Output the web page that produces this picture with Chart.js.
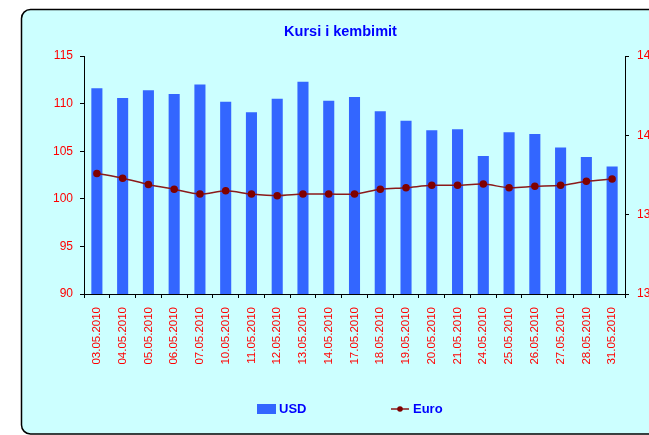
<!DOCTYPE html>
<html>
<head>
<meta charset="utf-8">
<script src="https://cdn.jsdelivr.net/npm/chart.js@4"></script>
<style>
  html, body { margin: 0; padding: 0; background: #ffffff; }
  #wrap { width: 649px; height: 435px; }
</style>
</head>
<body>
<div id="wrap"><canvas id="rateChart" width="649" height="435"></canvas></div>
<script>
// --- Data ---
const dates = ['03.05.2010', '04.05.2010', '05.05.2010', '06.05.2010', '07.05.2010',
    '10.05.2010', '11.05.2010', '12.05.2010', '13.05.2010', '14.05.2010', '17.05.2010',
    '18.05.2010', '19.05.2010', '20.05.2010', '21.05.2010', '24.05.2010', '25.05.2010',
    '26.05.2010', '27.05.2010', '28.05.2010', '31.05.2010'];
const usd = [111.6, 110.6, 111.4, 111.0, 112.0, 110.2, 109.1, 110.5, 112.3, 110.3, 110.7,
    109.2, 108.2, 107.2, 107.3, 104.5, 107.0, 106.8, 105.4, 104.4, 103.4];
const euro = [137.6, 137.3, 136.9, 136.6, 136.3, 136.5, 136.3, 136.2, 136.3, 136.3, 136.3,
    136.6, 136.7, 136.85, 136.85, 136.93, 136.7, 136.79, 136.85, 137.1, 137.25];
const usdTicks = [90, 95, 100, 105, 110, 115];
const euroTicks = [130, 135, 140, 145];

const FONT = "'Liberation Sans', Arial, sans-serif";

// --- Frame, title and legend drawn around the chart ---
const framePlugin = {
    id: 'frame',
    beforeDraw(chart) {
        const ctx = chart.ctx;
        ctx.save();
        ctx.beginPath();
        ctx.roundRect(21.5, 9.5, 700, 424.5, 9);
        ctx.fillStyle = '#ccffff';
        ctx.fill();
        ctx.lineWidth = 1.5;
        ctx.strokeStyle = '#000000';
        ctx.stroke();
        ctx.restore();
    },
    afterDraw(chart) {
        const ctx = chart.ctx;
        ctx.save();
        ctx.fillStyle = '#0000ff';
        ctx.font = 'bold 14.5px ' + FONT;
        ctx.textAlign = 'center';
        ctx.textBaseline = 'middle';
        ctx.fillText('Kursi i kembimit', 340.5, 32);

        // legend
        const ds = chart.data.datasets;
        const y = 409;
        ctx.font = 'bold 13px ' + FONT;
        ctx.textAlign = 'left';
        ctx.fillStyle = ds[0].backgroundColor;
        ctx.fillRect(257, y - 5, 19, 10);
        ctx.fillStyle = '#0000ff';
        ctx.fillText(ds[0].label, 279, y);

        ctx.strokeStyle = ds[1].borderColor;
        ctx.lineWidth = 1.5;
        ctx.beginPath();
        ctx.moveTo(391, y);
        ctx.lineTo(409, y);
        ctx.stroke();
        ctx.fillStyle = ds[1].pointBackgroundColor;
        ctx.beginPath();
        ctx.arc(400, y, 2.8, 0, Math.PI * 2);
        ctx.fill();
        ctx.fillStyle = '#0000ff';
        ctx.fillText(ds[1].label, 413, y);
        ctx.restore();
    }
};

const ctx = document.getElementById('rateChart').getContext('2d');
new Chart(ctx, {
    type: 'bar',
    data: {
        labels: dates,
        datasets: [{
            label: 'USD',
            data: usd,
            yAxisID: 'y',
            backgroundColor: '#3366ff',
            categoryPercentage: 1,
            barPercentage: 0.43,
            order: 1
        }, {
            type: 'line',
            label: 'Euro',
            data: euro,
            yAxisID: 'y1',
            borderColor: '#8b1a1a',
            borderWidth: 1.5,
            tension: 0.3,
            pointStyle: 'circle',
            pointRadius: 3,
            pointBackgroundColor: '#800000',
            pointBorderColor: '#800000',
            order: 0
        }]
    },
    options: {
        responsive: false,
        animation: false,
        layout: { padding: { top: 56, left: 0, right: 0, bottom: 0 } },
        plugins: {
            legend: { display: false },
            title: { display: false },
            tooltip: { enabled: false }
        },
        scales: {
            x: {
                offset: true,
                grid: { drawOnChartArea: false, offset: true, tickLength: 4, color: '#000000' },
                border: { color: '#000000', width: 1 },
                ticks: {
                    color: '#ff0000',
                    font: { family: FONT, size: 11.5 },
                    minRotation: 90,
                    maxRotation: 90,
                    autoSkip: false,
                    padding: 9
                },
                afterFit(scale) { scale.height = 141; }
            },
            y: {
                position: 'left',
                min: 90,
                max: 115,
                afterBuildTicks(scale) { scale.ticks = usdTicks.map(v => ({ value: v })); },
                grid: { drawOnChartArea: false, tickLength: 4, color: '#000000' },
                border: { color: '#000000', width: 1 },
                ticks: { color: '#ff0000', font: { family: FONT, size: 12 }, padding: 7 },
                afterFit(scale) { scale.width = 84; }
            },
            y1: {
                position: 'right',
                min: 130,
                max: 145,
                afterBuildTicks(scale) { scale.ticks = euroTicks.map(v => ({ value: v })); },
                grid: { drawOnChartArea: false, tickLength: 4, color: '#000000' },
                border: { color: '#000000', width: 1 },
                ticks: { color: '#ff0000', font: { family: FONT, size: 12 }, padding: 8 },
                afterFit(scale) { scale.width = 24; }
            }
        }
    },
    plugins: [framePlugin]
});
</script>
</body>
</html>
